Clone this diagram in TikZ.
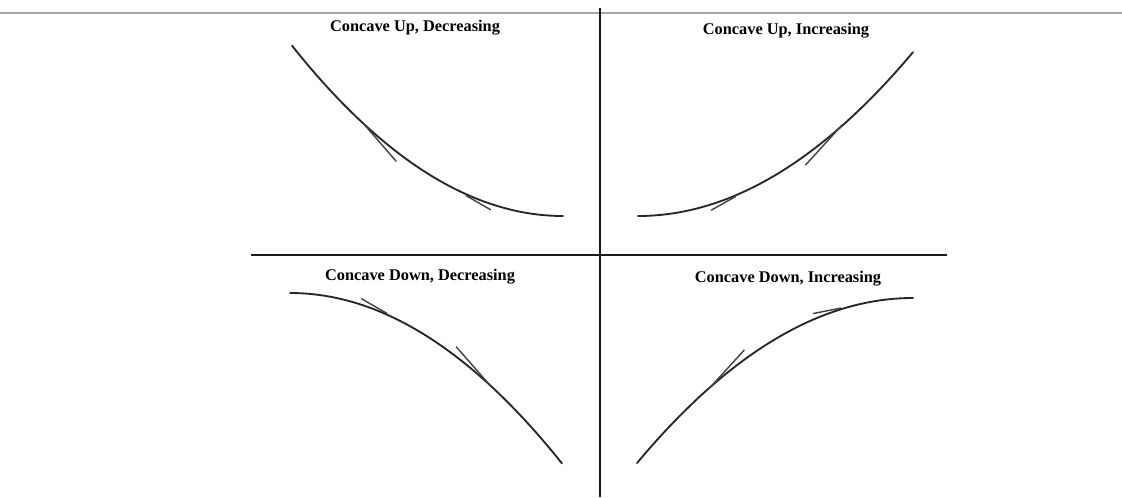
\documentclass[tikz,border=0pt]{standalone}
\usepackage{fontspec}
\setmainfont{Liberation Serif}
\tikzset{
  curveline/.style={
    line width=1.05pt,
    black!85,
    line cap=round
  },
  tangentline/.style={
    line width=0.8pt,
    black!75,
    line cap=round
  },
  axisline/.style={
    line width=0.6pt,
    black!90
  },
  caption/.style={
    inner sep=0pt,
    anchor=base,
    font=\bfseries\fontsize{9.3}{11}\selectfont
  }
}

\begin{document}
\begin{tikzpicture}[x=0.02cm,y=-0.02cm]
        \useasboundingbox (0,0) rectangle (1122,497);
        % frame lines
        \draw[line width=1.1pt,black!35] (0,13) -- (1122,13);
        \draw[axisline] (600,8) -- (600,497);
        \draw[axisline] (251,255) -- (947,255);
        % titles
        \node[caption] (upDec) at (415,31.5) {Concave Up, Decreasing};
        \node[caption] (upInc) at (786,34) {Concave Up, Increasing};
        \node[caption] (downDec) at (420,280.5) {Concave Down, Decreasing};
        \node[caption] (downInc) at (788,282.5) {Concave Down, Increasing};
        % curves
        \draw[curveline] plot[domain=292:563,samples=60] (\x,{216-0.002315*(563-\x)*(563-\x)});
        \draw[curveline] plot[domain=638:913,samples=60] (\x,{216-0.002169*(\x-638)*(\x-638)});
        \draw[curveline] plot[domain=290:562,samples=60] (\x,{293+0.002298*(\x-290)*(\x-290)});
        \draw[curveline] plot[domain=637:913,samples=60] (\x,{298+0.002166*(913-\x)*(913-\x)});
        % tangents (centre / angle / half length)
        \foreach \cx/\cy/\ang/\len in {379.1/141.6/49/26, 478.4/202.7/30/14,
                                       823.9/144.9/-47.6/27, 723.5/203.3/-29.2/14,
                                       374.1/306/29.9/14.5, 473.4/366.4/48.8/26,
                                       726.6/369.4/-47.6/26, 827/310.8/-11.2/14}{
                \draw[tangentline] (\cx,\cy) ++(\ang:\len) -- ++(\ang+180:2*\len);
            }
    \end{tikzpicture}
\end{document}
